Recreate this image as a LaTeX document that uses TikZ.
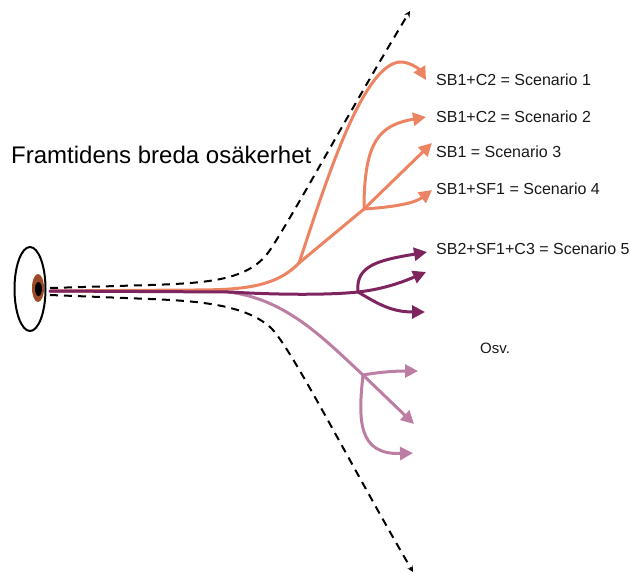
\documentclass[tikz,border=0pt]{standalone}
\usepackage{fontspec}
\setmainfont{Liberation Sans}
\usetikzlibrary{arrows.meta,shapes.geometric}
\definecolor{orangeb}{HTML}{EC8463}
\definecolor{plumb}{HTML}{7E2560}
\definecolor{mauveb}{HTML}{BC7FA3}
\definecolor{irisb}{HTML}{9C4A28}
\tikzset{
  branch/.style={line width=3pt,line cap=round,-{Triangle[length=13pt,width=13pt]}},
  trunk/.style={line width=3pt,line cap=round},
  bound/.style={line width=2pt,dash pattern=on 8pt off 6pt,-{Stealth[length=6pt,width=6pt]}},
  lab/.style={anchor=west,inner sep=0pt,font=\fontsize{16}{18}\selectfont,text=black!90}
}
\begin{document}
\begin{tikzpicture}[x=1pt,y=-1pt]
\useasboundingbox (0,0) rectangle (631,574);
% eye
\node[draw=black,line width=2pt,ellipse,minimum width=31pt,minimum height=84pt,inner sep=0pt] (eye) at (30,289) {};
\node[fill=irisb,ellipse,minimum width=12pt,minimum height=28pt,inner sep=0pt] (iris) at (38,288) {};
\node[fill=black,ellipse,minimum width=7pt,minimum height=14pt,inner sep=0pt] (pupil) at (38.5,289) {};
% junctions
\coordinate (start) at (50,291);
\coordinate (o1) at (299,263);
\coordinate (o2) at (364,209);
\coordinate (p1) at (358,292);
\coordinate (m1) at (363,375);
% free ends
\coordinate (e1) at (426,80);
\coordinate (e2) at (426,117);
\coordinate (e3) at (432,143);
\coordinate (e4) at (432,190);
\coordinate (e5) at (427,252);
\coordinate (e6) at (426,272);
\coordinate (e7) at (425,312);
\coordinate (e8) at (418,371);
\coordinate (e9) at (414,424);
\coordinate (e10) at (413,453);
\coordinate (d1s) at (50,288);
\coordinate (d1e) at (410,11);
\coordinate (d2s) at (50,295);
\coordinate (d2e) at (413,572);
% dashed bounds
\draw[bound] (d1s) -- (150,285) .. controls (210,283) and (250,280) .. (270,250) .. controls (294,214) and (350,110) .. (d1e);
\draw[bound] (d2s) -- (150,299) .. controls (200,301) and (245,305) .. (270,327) .. controls (290,345) and (345,455) .. (d2e);
% mauve
\draw[trunk,mauveb] (start) -- (215,291) .. controls (280,293) and (320,335) .. (m1);
\draw[branch,mauveb] (m1) .. controls (380,372) and (395,371) .. (e8);
\draw[branch,mauveb] (m1) -- (e9);
\draw[branch,mauveb] (m1) .. controls (358,420) and (358,455) .. (e10);
% orange
\draw[trunk,orangeb] (start) -- (190,290) .. controls (240,290) and (275,288) .. (o1);
\draw[trunk,orangeb] (o1) -- (o2);
\draw[branch,orangeb] (o1) .. controls (322,195) and (362,60) .. (402,62) .. controls (412,63) and (420,70) .. (e1);
\draw[branch,orangeb] (o2) .. controls (364,140) and (380,125) .. (e2);
\draw[branch,orangeb] (o2) -- (e3);
\draw[branch,orangeb] (o2) .. controls (395,207) and (415,203) .. (e4);
% plum
\draw[trunk,plumb] (start) -- (230,292) .. controls (280,295) and (330,295) .. (p1);
\draw[branch,plumb] (p1) .. controls (355,265) and (380,260) .. (e5);
\draw[branch,plumb] (p1) .. controls (385,289) and (405,281) .. (e6);
\draw[branch,plumb] (p1) .. controls (375,302) and (390,312) .. (e7);
% text
\node[anchor=west,inner sep=0pt,font=\fontsize{24}{28}\selectfont] (title) at (11,155) {Framtidens breda osäkerhet};
\node[lab] (s1) at (436,80) {SB1+C2 = Scenario 1};
\node[lab] (s2) at (436,117) {SB1+C2 = Scenario 2};
\node[lab] (s3) at (436,152) {SB1 = Scenario 3};
\node[lab] (s4) at (436,189) {SB1+SF1 = Scenario 4};
\node[lab] (s5) at (436,249) {SB2+SF1+C3 = Scenario 5};
\node[lab,font=\fontsize{15}{17}\selectfont] (osv) at (480,348) {Osv.};
\end{tikzpicture}
\end{document}
